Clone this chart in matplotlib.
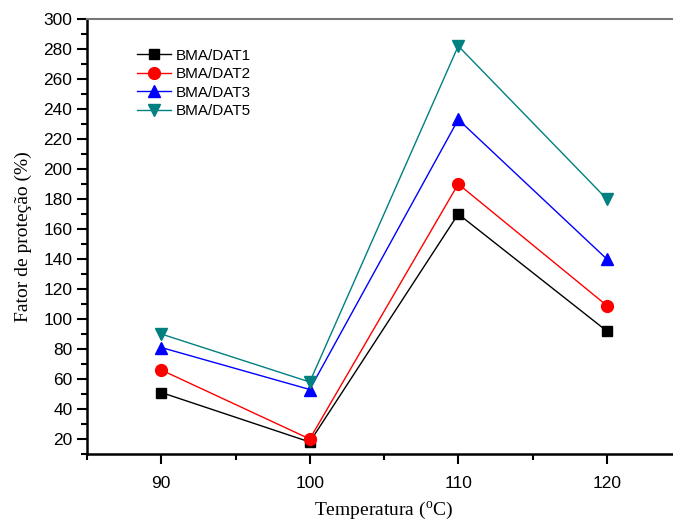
import matplotlib
matplotlib.use('Agg')
import matplotlib.pyplot as plt
from matplotlib.ticker import MultipleLocator

plt.rcParams['font.family'] = 'Liberation Sans'
plt.rcParams['mathtext.fontset'] = 'custom'
plt.rcParams['mathtext.rm'] = 'Liberation Serif'

# dados
temperatura = [90, 100, 110, 120]
dat1 = [51, 18, 170, 92]
dat2 = [66, 20, 190, 109]
dat3 = [81, 53, 233, 140]
dat5 = [90, 58, 282, 180]

series = [
    ('BMA/DAT1', dat1, 'black', 's', 7),
    ('BMA/DAT2', dat2, 'red', 'o', 8.5),
    ('BMA/DAT3', dat3, 'blue', '^', 9),
    ('BMA/DAT5', dat5, '#008080', 'v', 9),
]

fig = plt.figure(figsize=(6.73, 5.23), dpi=100)
ax = fig.add_axes([87 / 673, 69 / 523, (681 - 87) / 673, (454 - 19) / 523])

for nome, vals, cor, mk, ms in series:
    ax.plot(temperatura, vals, color=cor, marker=mk, markersize=ms,
            linewidth=1, label=nome, clip_on=False)

ax.set_xlim(85, 125)
ax.set_ylim(10, 300)
ax.xaxis.set_major_locator(MultipleLocator(10))
ax.xaxis.set_minor_locator(MultipleLocator(5))
ax.yaxis.set_minor_locator(MultipleLocator(10))
ax.set_yticks(range(20, 301, 20))

ax.tick_params(which='major', direction='out', length=7, width=1.5, labelsize=12.5)
ax.tick_params(which='minor', direction='out', length=4, width=1.5)
ax.tick_params(axis='x', pad=9)

ax.spines['right'].set_visible(False)
ax.spines['top'].set_color('#777777')
ax.spines['top'].set_linewidth(1.5)
ax.spines['left'].set_linewidth(1.8)
ax.spines['bottom'].set_linewidth(1.8)

ax.set_xlabel('Temperatura ($^{\\rm o}$C)', family='Liberation Serif', fontsize=14, labelpad=6)
ax.set_ylabel('Fator de proteção (%)', family='Liberation Serif', fontsize=14, labelpad=8)

ax.legend(loc='upper left', bbox_to_anchor=(0.074, 0.946), frameon=False, fontsize=11,
          handlelength=2.2, handletextpad=0.3, labelspacing=0.3, borderaxespad=0)

fig.savefig('out.png', dpi=100)
